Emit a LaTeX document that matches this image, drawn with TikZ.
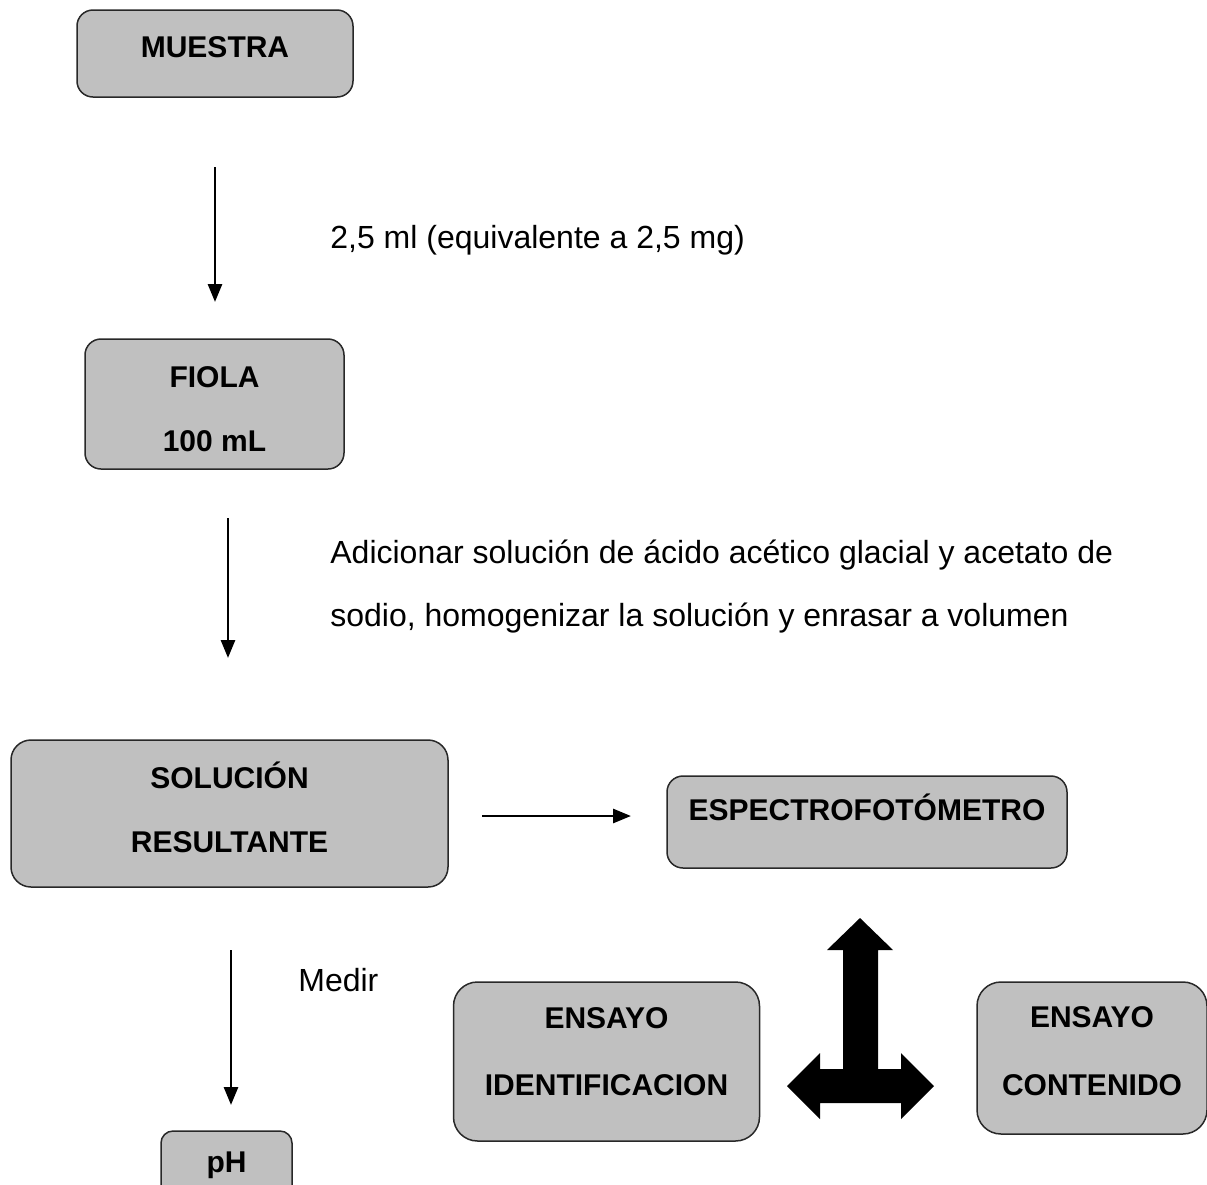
\documentclass[tikz,border=0pt]{standalone}
\usepackage{fontspec}
\setmainfont{Liberation Sans}
\usepackage{xcolor}
\usetikzlibrary{arrows.meta}

\definecolor{boxgray}{RGB}{192,192,192}
\definecolor{boxline}{RGB}{40,40,40}

\begin{document}
\begin{tikzpicture}[x=0.5pt, y=-0.5pt, >=Triangle]
\tikzset{
  block/.style = {rectangle, draw=boxline, line width=0.75pt, fill=boxgray, rounded corners=8pt, align=center, inner sep=0pt, text height=12pt, font=\bfseries\fontsize{15}{32}\selectfont},
  line/.style = {draw, line width=1.4pt, -{Triangle[width=7pt, length=9pt]}},
  note/.style = {anchor=west, align=left, inner sep=0pt, font=\fontsize{16}{31.5}\selectfont}
}
\useasboundingbox (0,0) rectangle (1207,1185);
\clip (0,0) rectangle (1207,1185);
% boxes
\node [block, minimum width=138pt, minimum height=43.5pt, text depth=7.7pt] (muestra) at (215,53.5) {MUESTRA};
\node [block, minimum width=129.5pt, minimum height=65pt, text height=47.8pt, text depth=0pt] (fiola) at (214.5,404) {FIOLA\\100 mL};
\node [block, minimum width=218.5pt, minimum height=73.5pt, text height=39.3pt, text depth=0pt, rounded corners=10pt] (solucion) at (229.5,813.5) {SOLUCIÓN\\RESULTANTE};
\node [block, minimum width=200pt, minimum height=46pt, text depth=13.2pt] (espectro) at (867,822) {ESPECTROFOTÓMETRO};
\node [block, minimum width=153pt, minimum height=79.5pt, text height=34.3pt, text depth=0pt, rounded corners=12pt, font=\bfseries\fontsize{15}{33.5}\selectfont] (identificacion) at (606.5,1061.5) {ENSAYO\\IDENTIFICACION};
\node [block, minimum width=115pt, minimum height=76pt, text height=37.8pt, text depth=0pt, rounded corners=12pt, font=\bfseries\fontsize{15}{34}\selectfont] (contenido) at (1092,1058) {ENSAYO\\CONTENIDO};
\node [block, minimum width=65.5pt, minimum height=35pt, text depth=5.2pt, rounded corners=6pt] (ph) at (226.5,1166) {pH};
% labels
\node [note] (dosis) at (330,240) {2,5 ml (equivalente a 2,5 mg)};
\node [note] (adicionar) at (330,586.5) {Adicionar solución de ácido acético glacial y acetato de\\sodio, homogenizar la solución y enrasar a volumen};
\node [note] (medir) at (298,980) {Medir};
% arrow ends
\coordinate (a1) at (215,167);  \coordinate (b1) at (215,302);
\coordinate (a2) at (228,518);  \coordinate (b2) at (228,658);
\coordinate (a3) at (482,816);  \coordinate (b3) at (631,816);
\coordinate (a4) at (231,950);  \coordinate (b4) at (231,1105);
\path [line] (a1) -- (b1);
\path [line] (a2) -- (b2);
\path [line] (a3) -- (b3);
\path [line] (a4) -- (b4);
% three way block arrow
\fill (860,918) -- (893,950) -- (878,950) -- (878,1069) -- (901,1069) -- (901,1053)
  -- (934,1086) -- (901,1119) -- (901,1103) -- (820,1103) -- (820,1119) -- (787,1086)
  -- (820,1053) -- (820,1069) -- (843,1069) -- (843,950) -- (827,950) -- cycle;
\end{tikzpicture}
\end{document}
